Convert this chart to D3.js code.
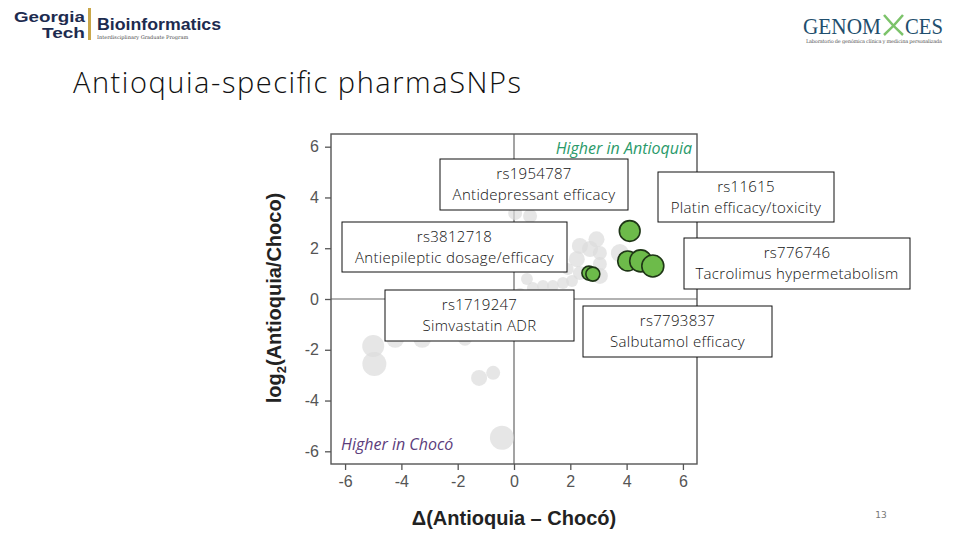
<!DOCTYPE html>
<html><head><meta charset="utf-8">
<script src="https://cdn.jsdelivr.net/npm/d3@7"></script>
<style>body{margin:0;background:#fff}svg{display:block}</style>
</head><body>
<svg id="c" width="960" height="540"></svg>
<script>
// ---- data ----
const grayDelta = [2.93,2.70,2.34,2.23,3.05,3.05,2.34,1.91,2.06,1.74,1.38,1.03,0.67,0.46,0.21,3.05,3.76,0.04,0.57,-5.00,-4.96,-4.22,-3.26,-1.74,-1.24,-0.74,-0.43];
const grayLog2  = [2.35,1.97,2.09,1.57,1.81,1.38,1.02,1.18,0.71,0.63,0.51,0.51,0.43,0.79,0.24,0.91,1.81,3.39,3.27,-1.85,-2.56,-1.57,-1.57,-1.57,-3.11,-2.91,-5.47];
const grayWeight= [67,67,67,67,51,51,51,37,37,37,37,37,37,37,26,67,84,51,51,126,150,84,84,51,67,51,150];
const greenDelta = [4.11,4.04,4.50,4.93,2.66,2.80];
const greenLog2  = [2.68,1.50,1.50,1.30,1.02,0.98];
const greenWeight= [112,104,126,126,51,51];
const xTicks = [-6,-4,-2,0,2,4,6];
const yTicks = [-6,-4,-2,0,2,4,6];
const snpIds   = ["rs1954787","rs11615","rs3812718","rs776746","rs1719247","rs7793837"];
const snpNotes = ["Antidepressant efficacy","Platin efficacy/toxicity","Antiepileptic dosage/efficacy","Tacrolimus hypermetabolism","Simvastatin ADR","Salbutamol efficacy"];

// ---- layout ----
const svg = d3.select("#c");
const x = d3.scaleLinear().domain([-6.5,6.5]).range([331,697]);
const y = d3.scaleLinear().domain([-6.5,6.5]).range([464,134]);
const r = d3.scaleSqrt().domain([0,150]).range([0,12]);

// Title
svg.append("text").attr("x",73).attr("y",93).attr("font-family","Open Sans").attr("font-weight",300).attr("font-size",29)
  .attr("fill","#111").attr("textLength",448).attr("lengthAdjust","spacing").text("Antioquia-specific pharmaSNPs");

// Logos (text approximations)
const gt = svg.append("g").attr("font-family","Liberation Sans").attr("font-weight","bold").attr("fill","#1d2b4f");
gt.append("text").attr("x",14).attr("y",22).attr("font-size",15).attr("textLength",71).attr("lengthAdjust","spacingAndGlyphs").text("Georgia");
gt.append("text").attr("x",42).attr("y",38).attr("font-size",15).attr("textLength",43).attr("lengthAdjust","spacingAndGlyphs").text("Tech");
svg.append("rect").attr("x",88).attr("y",8).attr("width",3).attr("height",32).attr("fill","#c9a74a");
gt.append("text").attr("x",97).attr("y",30).attr("font-size",16).attr("textLength",124).attr("lengthAdjust","spacingAndGlyphs").text("Bioinformatics");
svg.append("text").attr("x",97).attr("y",39).attr("font-family","DejaVu Serif").attr("font-size",5).attr("fill","#444").text("Interdisciplinary Graduate Program");
const gm = svg.append("g").attr("font-family","Liberation Serif").attr("font-size",23).attr("fill","#1f4f6e");
gm.append("text").attr("x",803).attr("y",34).attr("textLength",78).attr("lengthAdjust","spacingAndGlyphs").text("GENOM");
gm.append("text").attr("x",905).attr("y",34).attr("textLength",38).attr("lengthAdjust","spacingAndGlyphs").text("CES");
svg.append("path").attr("d","M884,15 Q893,26 903,35 M903,15 Q894,26 884,35").attr("stroke","#7cc36a").attr("stroke-width",2.5).attr("fill","none");
svg.append("text").attr("x",806).attr("y",43).attr("font-family","DejaVu Serif").attr("font-size",5).attr("fill","#555")
  .attr("textLength",136).text("Laboratorio de genómica clínica y medicina personalizada");

// Plot frame & zero lines
const plot = svg.append("g");
plot.append("line").attr("x1",x(0)).attr("x2",x(0)).attr("y1",y(6.5)).attr("y2",y(-6.5)).attr("stroke","#666").attr("stroke-width",1.2);
plot.append("line").attr("x1",x(-6.5)).attr("x2",x(6.5)).attr("y1",y(0)).attr("y2",y(0)).attr("stroke","#666").attr("stroke-width",1.2);

// Gray points
plot.selectAll("circle.g").data(grayDelta.map((d,i)=>({x:d,y:grayLog2[i],w:grayWeight[i]})))
  .join("circle").attr("class","g").attr("cx",d=>x(d.x)).attr("cy",d=>y(d.y)).attr("r",d=>r(d.w))
  .attr("fill","#dcdcdc").attr("fill-opacity",0.7);

// Frame
plot.append("rect").attr("x",x(-6.5)).attr("y",y(6.5)).attr("width",x(6.5)-x(-6.5)).attr("height",y(-6.5)-y(6.5))
  .attr("fill","none").attr("stroke","#555").attr("stroke-width",1.4);

// Axes
const xa = svg.append("g").attr("transform",`translate(0,${y(-6.5)})`)
  .call(d3.axisBottom(x).tickValues(xTicks).tickSize(6).tickPadding(6).tickFormat(d3.format("d")));
const ya = svg.append("g").attr("transform",`translate(${x(-6.5)},0)`)
  .call(d3.axisLeft(y).tickValues(yTicks).tickSize(6).tickPadding(6).tickFormat(d3.format("d")));
[xa,ya].forEach(a=>{
  a.select(".domain").remove();
  a.selectAll(".tick line").attr("stroke","#555").attr("stroke-width",1.3);
  a.selectAll(".tick text").attr("font-family","Liberation Sans").attr("font-size",16).attr("fill","#555")
    .text(d=>d<0?"-"+Math.abs(d):d);
});

// Axis titles
svg.append("text").attr("x",514).attr("y",525).attr("text-anchor","middle").attr("font-family","Liberation Sans")
  .attr("font-weight","bold").attr("font-size",20).attr("fill","#222").text("Δ(Antioquia – Chocó)");
const yl = svg.append("text").attr("transform","translate(281,298) rotate(-90)").attr("text-anchor","middle")
  .attr("font-family","Liberation Sans").attr("font-weight","bold").attr("font-size",20).attr("fill","#222");
yl.append("tspan").text("log");
yl.append("tspan").attr("font-size",13).attr("dy",5).text("2");
yl.append("tspan").attr("dy",-5).text("(Antioquia/Choco)");

// Region labels
svg.append("text").attr("x",692).attr("y",154).attr("text-anchor","end").attr("font-family","Open Sans")
  .attr("font-style","italic").attr("font-size",16).attr("fill","#2a9a6a").text("Higher in Antioquia");
svg.append("text").attr("x",341).attr("y",450).attr("font-family","Open Sans")
  .attr("font-style","italic").attr("font-size",16).attr("fill","#5c3d7c").text("Higher in Chocó");

// Green points
plot.selectAll("circle.s").data(greenDelta.map((d,i)=>({x:d,y:greenLog2[i],w:greenWeight[i]})))
  .join("circle").attr("class","s").attr("cx",d=>x(d.x)).attr("cy",d=>y(d.y)).attr("r",d=>r(d.w))
  .attr("fill","#6dbb4a").attr("stroke","#1e3516").attr("stroke-width",1.6);

// Annotation boxes (layout in pixels)
const boxLayout = [[440,159,188,51],[658,172,176,50],[342,222,225,50],[684,238,226,51],[385,290,189,51],[583,306,189,51]];
boxLayout.forEach((b,i)=>{
  const g = svg.append("g");
  g.append("rect").attr("x",b[0]).attr("y",b[1]).attr("width",b[2]).attr("height",b[3])
    .attr("fill","#fff").attr("stroke","#111").attr("stroke-width",1);
  g.append("text").attr("x",b[0]+b[2]/2).attr("y",b[1]+20).attr("text-anchor","middle")
    .attr("font-family","Open Sans").attr("font-weight",300).attr("font-size",15).attr("letter-spacing",0.3).attr("fill","#111").text(snpIds[i]);
  g.append("text").attr("x",b[0]+b[2]/2).attr("y",b[1]+41).attr("text-anchor","middle")
    .attr("font-family","Open Sans").attr("font-weight",300).attr("font-size",15).attr("letter-spacing",0.3).attr("fill","#111").text(snpNotes[i]);
});

// page number
svg.append("text").attr("x",881).attr("y",518).attr("text-anchor","middle").attr("font-family","DejaVu Sans")
  .attr("font-size",9).attr("fill","#777").text("13");
</script>
</body></html>
